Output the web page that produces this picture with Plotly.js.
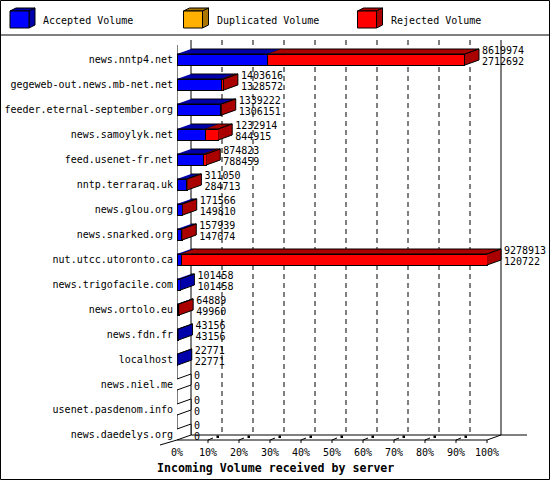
<!DOCTYPE html>
<html>
<head>
<meta charset="utf-8">
<script src="https://cdn.plot.ly/plotly-3.0.1.min.js"></script>
<style>
  body { margin: 0; background: #fff; }
  #chart { width: 550px; height: 480px; }
</style>
</head>
<body>
<div id="chart"></div>
<script>
// incoming volume per server (bytes), as printed next to each bar
const hosts = [
    'news.nntp4.net', 'gegeweb-out.news.mb-net.net', 'feeder.eternal-september.org',
    'news.samoylyk.net', 'feed.usenet-fr.net', 'nntp.terraraq.uk', 'news.glou.org',
    'news.snarked.org', 'nut.utcc.utoronto.ca', 'news.trigofacile.com', 'news.ortolo.eu',
    'news.fdn.fr', 'localhost', 'news.niel.me', 'usenet.pasdenom.info', 'news.daedelys.org'
];
const totalVolume = [8619974, 1403616, 1339222, 1232914, 874823, 311050, 171566, 157939,
    9278913, 101458, 64889, 43156, 22771, 0, 0, 0];
const acceptedVolume = [2712692, 1328572, 1306151, 844915, 788459, 284713, 149810, 147074,
    120722, 101458, 49960, 43156, 22771, 0, 0, 0];
const duplicatedVolume = [0, 0, 0, 0, 0, 0, 0, 0, 0, 0, 0, 0, 0, 0, 0, 0];
const xTicks = [0, 10, 20, 30, 40, 50, 60, 70, 80, 90, 100];
const xTickText = ['0%', '10%', '20%', '30%', '40%', '50%', '60%', '70%', '80%', '90%', '100%'];

const seriesNames = ['Accepted Volume', 'Duplicated Volume', 'Rejected Volume'];
const frontColors = ['#0000ff', '#ffb000', '#ff0000'];
const shadeColors = ['#0000aa', '#aa7500', '#aa0000'];

// page geometry (pixels)
const W = 550, H = 480;
const L = 177, R = 2, T = 38, B = 37;
const PX_PCT = 3.1;      // pixels per percent
const PX_ROW = 25;       // pixels per category
const ROW0 = 59.5;       // pixel y of first category
const DX = 14 / PX_PCT;  // 3d depth in x units
const DY = 5 / PX_ROW;   // 3d depth in row units
const BAR_H = 0.44;
const FONT = 'DejaVu Sans Mono, Liberation Mono, monospace';

const rowOf = (py) => (py - ROW0) / PX_ROW;
const pctOf = (px) => (px - L) / PX_PCT;
const paperX = (px) => (px - L) / (W - L - R);
const paperY = (py) => (H - B - py) / (H - T - B);

const maxV = Math.max(...totalVolume);
const acc = acceptedVolume.map(v => v / maxV * 100);
const dup = duplicatedVolume.map(v => v / maxV * 100);
const rej = totalVolume.map((v, i) => (v - acceptedVolume[i] - duplicatedVolume[i]) / maxV * 100);
const yIdx = hosts.map((h, i) => i);

var data = [];

// front faces
[acc, dup, rej].forEach((vals, s) => {
    data.push({
        type: 'bar',
        orientation: 'h',
        x: vals,
        y: yIdx,
        width: BAR_H,
        marker: { color: frontColors[s], line: { color: '#000', width: 1 } },
        hoverinfo: 'skip',
        showlegend: false
    });
});

// top faces and right side faces
var tops = [[[], []], [[], []], [[], []]];
var sides = [[[], []], [[], []], [[], []], [[], []]];  // last one = empty bar
hosts.forEach((h, i) => {
    const yt = i - BAR_H / 2, yb = i + BAR_H / 2;
    const segs = [acc[i], dup[i], rej[i]];
    let start = 0, last = 3;
    segs.forEach((len, s) => {
        if (len <= 0) return;
        const end = start + len;
        tops[s][0].push(start, end, end + DX, start + DX, null);
        tops[s][1].push(yt, yt, yt - DY, yt - DY, null);
        start = end;
        last = s;
    });
    sides[last][0].push(start, start + DX, start + DX, start, null);
    sides[last][1].push(yt, yt - DY, yb - DY, yb, null);
});
const faceTrace = (pts, color) => ({
    type: 'scatter', mode: 'lines', x: pts[0], y: pts[1],
    fill: 'toself', fillcolor: color,
    line: { color: '#000', width: 1 },
    hoverinfo: 'skip', showlegend: false
});
tops.forEach((pts, s) => { if (pts[0].length) data.push(faceTrace(pts, shadeColors[s])); });
sides.forEach((pts, s) => { if (pts[0].length) data.push(faceTrace(pts, s < 3 ? shadeColors[s] : '#ffffff')); });

// value labels
const labelX = totalVolume.map(v => v / maxV * 100 + DX + 3 / PX_PCT);
[[totalVolume, -0.33], [acceptedVolume, 0.1]].forEach(([vals, off]) => {
    data.push({
        type: 'scatter', mode: 'text',
        x: labelX,
        y: yIdx.map(i => i + off),
        text: vals.map(String),
        textposition: 'middle right',
        textfont: { family: FONT, size: 10, color: '#000000' },
        marker: { color: '#000000' },
        cliponaxis: false,
        hoverinfo: 'skip', showlegend: false
    });
});

// 3d walls, floor and grid
var shapes = [];
const line = (x0, y0, x1, y1, extra) => Object.assign({
    type: 'line', xref: 'x', yref: 'y', x0: x0, y0: y0, x1: x1, y1: y1,
    line: { color: '#000', width: 1 }, layer: 'below'
}, extra || {});
const backTop = rowOf(40), backBottom = rowOf(435), frontTop = rowOf(45), frontBottom = rowOf(440);
shapes.push(line(0, frontTop, 0, frontBottom));
shapes.push(line(DX, backTop, DX, backBottom));
shapes.push(line(100 + DX, backTop, 100 + DX, backBottom));
xTicks.slice(1, -1).forEach(t => {
    shapes.push(line(t + DX, backTop, t + DX, backBottom, { line: { color: '#000', width: 1, dash: '5px,4px' } }));
});
shapes.push(line(DX, backBottom, pctOf(527), backBottom));
shapes.push(line(0, frontBottom, 100, frontBottom, { layer: 'above' }));
shapes.push(line(100, frontBottom, 100 + DX, backBottom, { layer: 'above' }));

// things drawn outside the plot area, in paper units
const pline = (x0, y0, x1, y1) => ({
    type: 'line', xref: 'paper', yref: 'paper',
    x0: paperX(x0), y0: paperY(y0), x1: paperX(x1), y1: paperY(y1),
    line: { color: '#000', width: 1 }
});
const prect = (x0, y0, x1, y1, fill, lw) => ({
    type: 'rect', xref: 'paper', yref: 'paper',
    x0: paperX(x0), y0: paperY(y0), x1: paperX(x1), y1: paperY(y1),
    fillcolor: fill, line: { color: '#000', width: lw }
});
const ppath = (pts, fill) => ({
    type: 'path', xref: 'paper', yref: 'paper',
    path: 'M' + pts.map(p => paperX(p[0]) + ',' + paperY(p[1])).join('L') + 'Z',
    fillcolor: fill, line: { color: '#000', width: 1 }
});

shapes.push(pline(160, 445, 177, 440));
xTicks.slice(1).forEach(t => {
    const x = L + t * PX_PCT;
    shapes.push(pline(x, 443, x, 440));
    if (t < 100) {
        shapes.push(pline(x, 440, x + 5, 438));
        shapes.push(prect(x + 8.5, 435.5, x + 11, 438, '#000', 0));
    }
});

// frame and legend separator
shapes.push(prect(0.5, 0.5, W - 0.5, H - 0.5, 'rgba(0,0,0,0)', 1));
shapes.push(pline(0, 35, W, 35));

// legend cubes
const legendX = [10, 183.5, 357.5];
var annotations = [];
seriesNames.forEach((name, s) => {
    const x0 = legendX[s];
    shapes.push(ppath([[x0, 11], [x0 + 6, 8], [x0 + 25, 8], [x0 + 19, 11]], shadeColors[s]));
    shapes.push(ppath([[x0 + 19, 11], [x0 + 25, 8], [x0 + 25, 25], [x0 + 19, 28]], shadeColors[s]));
    shapes.push(prect(x0, 11, x0 + 19, 28, frontColors[s], 1));
    annotations.push({
        xref: 'paper', yref: 'paper', x: paperX(x0 + 31), y: paperY(20.5),
        xanchor: 'left', yanchor: 'middle', showarrow: false,
        text: name, font: { family: FONT, size: 10, color: '#000' }
    });
});
annotations.push({
    xref: 'paper', yref: 'paper', x: paperX(155), y: paperY(468),
    xanchor: 'left', yanchor: 'middle', showarrow: false,
    text: 'Incoming Volume received by server',
    font: { family: FONT, size: 11.6, color: '#000', weight: 'bold' }
});

const layout = {
    width: W,
    height: H,
    margin: { l: L, r: R, t: T, b: B, pad: 0 },
    paper_bgcolor: '#fff',
    plot_bgcolor: '#fff',
    colorway: ['#000000'],
    barmode: 'stack',
    showlegend: false,
    font: { family: FONT, size: 10, color: '#000' },
    xaxis: {
        range: [0, (W - L - R) / PX_PCT],
        tickvals: xTicks,
        ticktext: xTickText,
        ticks: '',
        showgrid: false,
        zeroline: false,
        showline: false,
        ticklabelstandoff: 2,
        tickfont: { family: FONT, size: 10, color: '#000' }
    },
    yaxis: {
        range: [rowOf(H - B), rowOf(T)],
        tickvals: yIdx,
        ticktext: hosts,
        ticks: '',
        showgrid: false,
        zeroline: false,
        showline: false,
        ticklabelstandoff: 3,
        tickfont: { family: FONT, size: 10, color: '#000' }
    },
    shapes: shapes,
    annotations: annotations
};

Plotly.newPlot('chart', data, layout, { staticPlot: true, displayModeBar: false });
</script>
</body>
</html>
